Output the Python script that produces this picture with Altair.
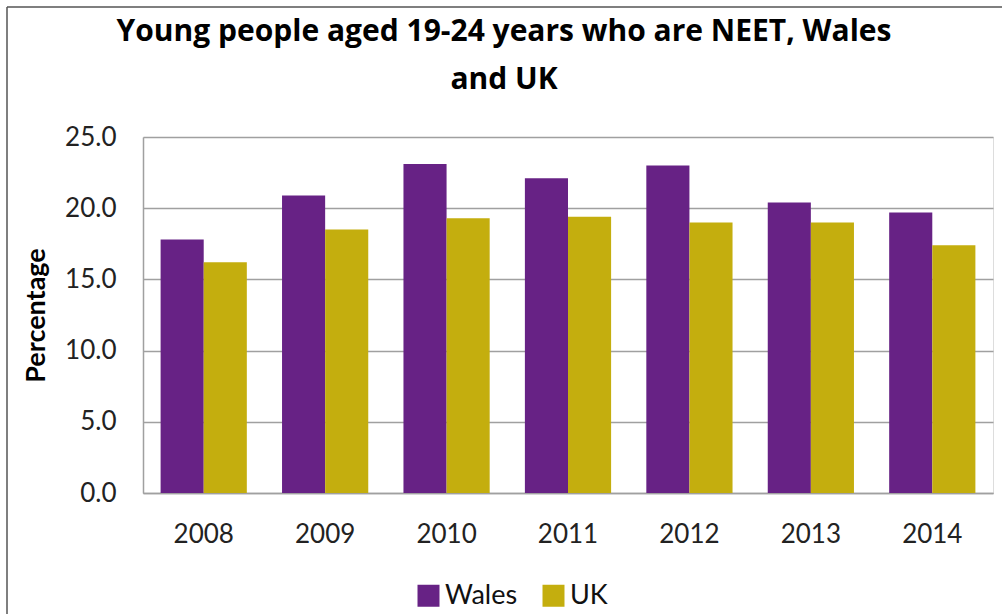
import altair as alt
import pandas as pd

years = ["2008", "2009", "2010", "2011", "2012", "2013", "2014"]
wales = [17.8, 20.9, 23.1, 22.1, 23.0, 20.4, 19.7]
uk = [16.2, 18.5, 19.3, 19.4, 19.0, 19.0, 17.4]
series = ["Wales", "UK"]
colors = ["#672285", "#C4AE0E"]
y_ticks = [0, 5, 10, 15, 20, 25]

rows = []
for i, yr in enumerate(years):
    rows.append({"Year": yr, "Area": "Wales", "Value": wales[i]})
    rows.append({"Year": yr, "Area": "UK", "Value": uk[i]})
df = pd.DataFrame(rows)

FONT = "Lato"

bars = alt.Chart(df).mark_bar().encode(
    x=alt.X("Year:N", sort=years,
            scale=alt.Scale(paddingInner=0.29, paddingOuter=0.145),
            axis=alt.Axis(title=None, labelAngle=0, ticks=False,
                          labelPadding=28, labelFontSize=26, labelFont=FONT,
                          labelColor="#222222", domainColor="#a0a0a0",
                          domainWidth=1.5, grid=False)),
    xOffset=alt.XOffset("Area:N", sort=series, scale=alt.Scale(paddingInner=0, paddingOuter=0)),
    y=alt.Y("Value:Q",
            scale=alt.Scale(domain=[0, 25], nice=False),
            axis=alt.Axis(title="Percentage", values=y_ticks, format=".1f",
                          ticks=False, labelPadding=27, labelFontSize=26,
                          labelFont=FONT, labelColor="#222222",
                          titleFont=FONT, titleFontSize=27, titleFontWeight="bold",
                          titleColor="#000000", titlePadding=14,
                          domainColor="#a0a0a0", domainWidth=1.5,
                          gridColor="#a0a0a0", gridWidth=1.5)),
    color=alt.Color("Area:N", sort=series,
                    scale=alt.Scale(domain=series, range=colors),
                    legend=alt.Legend(title=None, orient="none", legendX=272, legendY=445,
                                      direction="horizontal", symbolType="square",
                                      symbolSize=484, symbolStrokeWidth=0,
                                      labelFont=FONT, labelFontSize=27,
                                      labelColor="#111111", labelOffset=3,
                                      columnPadding=22)),
)

frame_df = pd.DataFrame({"k": [0]})
left_line = alt.Chart(frame_df).mark_rule(color="#555555", strokeWidth=1.5).encode(
    x=alt.value(-136), y=alt.value(-130), y2=alt.value(480))
top_line = alt.Chart(frame_df).mark_rule(color="#555555", strokeWidth=1.5).encode(
    x=alt.value(-136), x2=alt.value(860), y=alt.value(-130))

chart = alt.layer(bars, left_line, top_line).properties(
    width=850,
    height=356,
    padding={"left": 143, "top": 137, "right": 9, "bottom": 121},
    autosize=alt.AutoSizeParams(type="none"),
    title=alt.TitleParams(
        text=["Young people aged 19-24 years who are NEET, Wales", "and UK"],
        font="Open Sans", fontSize=30, fontWeight="bold", color="#000000",
        anchor="middle", dx=-64, offset=-113, baseline="alphabetic", lineHeight=48),
).configure_view(stroke=None).configure(background="white")

chart.save("out.html", embed_options={"renderer": "svg", "actions": False})
